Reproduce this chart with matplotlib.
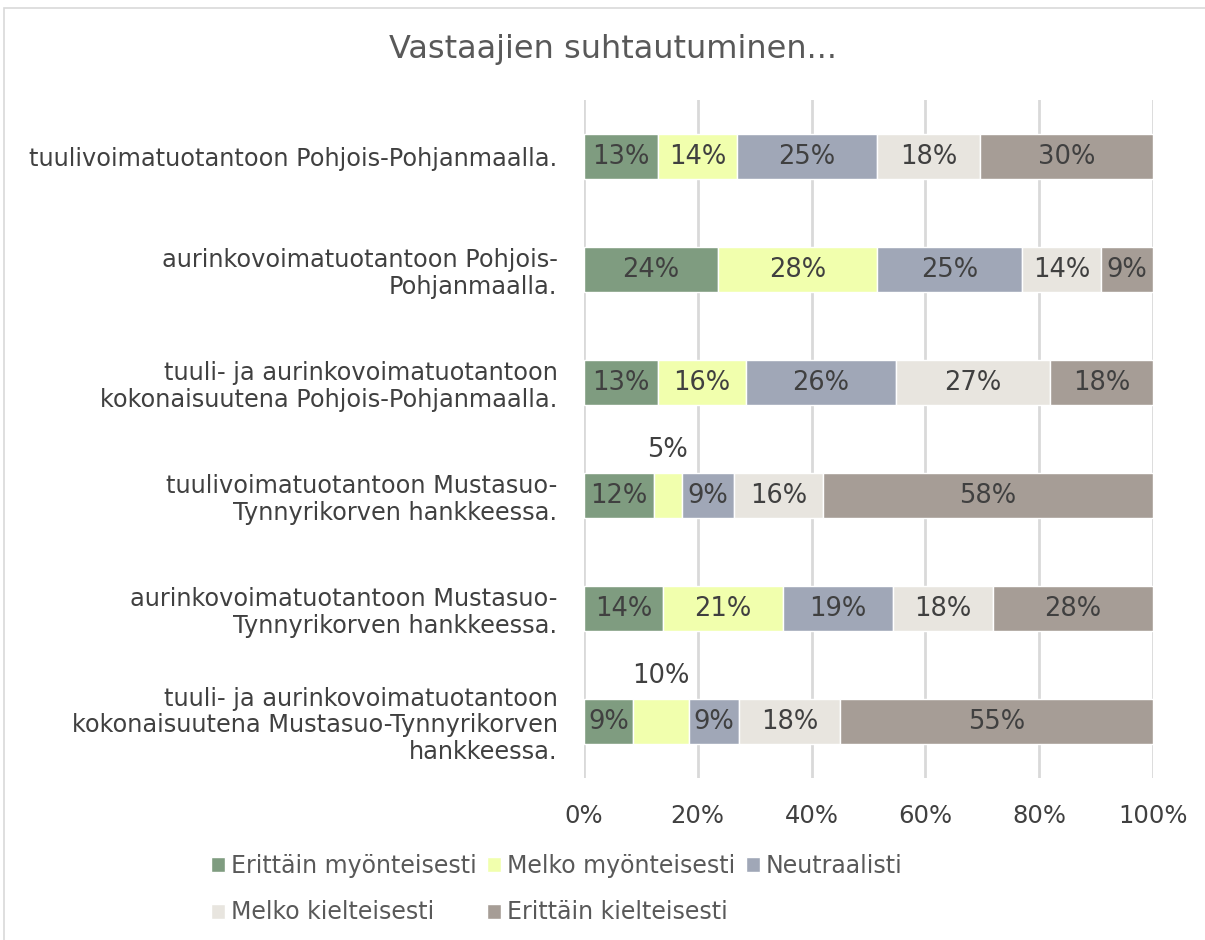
import matplotlib.pyplot as plt
import matplotlib.patches as mpatches
import numpy as np

categories = [
    "tuulivoimatuotantoon Pohjois-Pohjanmaalla.",
    "aurinkovoimatuotantoon Pohjois-\nPohjanmaalla.",
    "tuuli- ja aurinkovoimatuotantoon\nkokonaisuutena Pohjois-Pohjanmaalla.",
    "tuulivoimatuotantoon Mustasuo-\nTynnyrikorven hankkeessa.",
    "aurinkovoimatuotantoon Mustasuo-\nTynnyrikorven hankkeessa.",
    "tuuli- ja aurinkovoimatuotantoon\nkokonaisuutena Mustasuo-Tynnyrikorven\nhankkeessa.",
]
series_names = ["Erittäin myönteisesti", "Melko myönteisesti", "Neutraalisti",
                "Melko kielteisesti", "Erittäin kielteisesti"]
erittain_myont = [13.0, 23.6, 13.0, 12.3, 13.9, 8.6]
melko_myont = [13.9, 27.9, 15.5, 4.9, 21.1, 9.9]
neutraali = [24.6, 25.4, 26.3, 9.2, 19.3, 8.7]
melko_kielt = [18.1, 14.0, 27.1, 15.6, 17.6, 17.8]
erittain_kielt = [30.4, 9.1, 18.1, 58.0, 28.1, 55.0]
colors = ["#7f9c80", "#f1ffad", "#a0a7b7", "#e8e5df", "#a69d96"]

series = [erittain_myont, melko_myont, neutraali, melko_kielt, erittain_kielt]
txt = "#404040"

fig = plt.figure(figsize=(12.05, 9.4), dpi=100)
ax = fig.add_axes([0.4846, 0.1723, 0.4722, 0.7213])
fig.add_artist(mpatches.Rectangle((0.003, -0.01), 1.1, 1.0015,
                                  transform=fig.transFigure, fill=False,
                                  edgecolor="#d9d9d9", lw=1.2))

y = np.arange(len(categories))
left = np.zeros(len(categories))
handles = []
for name, vals, c in zip(series_names, series, colors):
    vals = np.array(vals)
    bars = ax.barh(y, vals, left=left, height=0.405, color=c,
                   edgecolor="white", linewidth=1, label=name, zorder=3)
    handles.append(bars)
    for yi, l, v in zip(y, left, vals):
        lab = "%d%%" % round(v)
        # small yellow segments get their label above the bar
        if v < 10.5 and name == "Melko myönteisesti":
            ax.text(l + v / 2, yi - 0.40, lab, ha="center", va="center",
                    fontsize=18.5, color=txt)
        else:
            ax.text(l + v / 2, yi, lab, ha="center", va="center",
                    fontsize=18.5, color=txt, zorder=4)
    left += vals

ax.set_xlim(0, 100)
ax.set_ylim(5.5, -0.5)
ax.set_xticks(np.arange(0, 101, 20))
ax.set_xticklabels(["%d%%" % v for v in range(0, 101, 20)], fontsize=17.5, color=txt)
ax.set_yticks(y)
ax.set_yticklabels(categories, fontsize=17.3, color=txt, linespacing=1.15)
ax.tick_params(length=0, axis="y", pad=19)
ax.tick_params(length=0, axis="x", pad=19)
ax.grid(axis="x", color="#d9d9d9", lw=2, zorder=0)
for s in ax.spines.values():
    s.set_visible(False)

fig.text(0.509, 0.947, "Vastaajien suhtautuminen...", ha="center", va="center",
         fontsize=23, color="#595959")

order = [0, 3, 1, 4, 2]
leg = fig.legend([handles[i] for i in order], [series_names[i] for i in order],
                 ncol=3, loc="center", bbox_to_anchor=(0.462, 0.054),
                 frameon=False, fontsize=17, handlelength=0.6, handleheight=0.6,
                 handletextpad=0.25, columnspacing=0.45, labelspacing=0.95)
for t in leg.get_texts():
    t.set_color("#595959")

fig.savefig("out.png", dpi=100)
